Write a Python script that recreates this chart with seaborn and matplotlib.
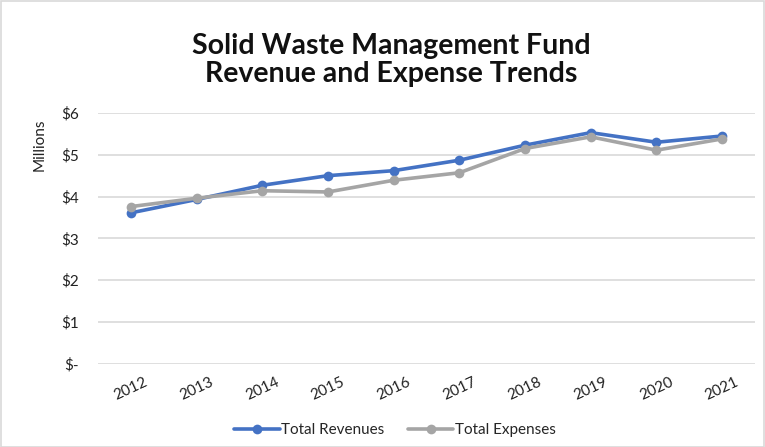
import matplotlib
matplotlib.use("Agg")
import matplotlib.pyplot as plt
import seaborn as sns
import pandas as pd
from matplotlib.patches import Rectangle

years = ["2012", "2013", "2014", "2015", "2016", "2017", "2018", "2019", "2020", "2021"]
revenues = [3.61, 3.93, 4.27, 4.50, 4.62, 4.87, 5.23, 5.53, 5.30, 5.45]
expenses = [3.76, 3.96, 4.14, 4.11, 4.39, 4.57, 5.15, 5.43, 5.11, 5.38]
series_names = ["Total Revenues", "Total Expenses"]
ytick_vals = [0, 1, 2, 3, 4, 5, 6]
ytick_labels = ["$-", "$1", "$2", "$3", "$4", "$5", "$6"]

df = pd.DataFrame({
    "Year": years * 2,
    "Value": revenues + expenses,
    "Series": [series_names[0]] * len(years) + [series_names[1]] * len(years),
})

sns.set_theme(style="white")
plt.rcParams["font.family"] = ["Lato", "DejaVu Sans"]

fig = plt.figure(figsize=(7.65, 4.47), dpi=100)
ax = fig.add_axes([98 / 765, 1 - 363.7 / 447, (755 - 98) / 765, (363.7 - 113) / 447])

palette = {series_names[0]: "#4472C4", series_names[1]: "#A5A5A5"}
sns.lineplot(data=df, x="Year", y="Value", hue="Series", palette=palette,
             marker="o", markersize=7, linewidth=2.6, markeredgewidth=0,
             ax=ax, sort=False, legend=True)

ax.set_ylim(0, 6)
ax.set_xlim(-0.5, len(years) - 0.5)
ax.set_yticks(ytick_vals)
ax.set_yticklabels(ytick_labels, fontsize=11, color="#222222")
ax.yaxis.grid(True, color="#D9D9D9", linewidth=1.2)
ax.set_axisbelow(True)
for s in ax.spines.values():
    s.set_visible(False)
ax.tick_params(axis="y", length=0, pad=14)
ax.tick_params(axis="x", length=0, pad=8)
plt.setp(ax.get_xticklabels(), rotation=25, fontsize=11, color="#222222")
ax.set_xlabel("")
ax.set_ylabel("")

leg = ax.legend(loc="center", ncol=2, frameon=False, fontsize=11, handlelength=3,
                columnspacing=1.5, handletextpad=0.1)
leg.set_bbox_to_anchor((395 / 765, 1 - 430 / 447), transform=fig.transFigure)

fig.text(40 / 765, 1 - 145 / 447, "Millions", rotation=90, ha="center", va="center",
         fontsize=11, color="#222222")
fig.text(391 / 765, 1 - 60 / 447, "Solid Waste Management Fund\nRevenue and Expense Trends",
         ha="center", va="center", fontsize=20.5, fontweight="bold", color="#111111",
         linespacing=1.1)

fig.patches.append(Rectangle((0.5 / 765, 0.5 / 447), 1 - 1.5 / 765, 1 - 1.5 / 447,
                             transform=fig.transFigure, fill=False,
                             edgecolor="#D9D9D9", linewidth=1.2))

fig.savefig("out.png", dpi=100)
